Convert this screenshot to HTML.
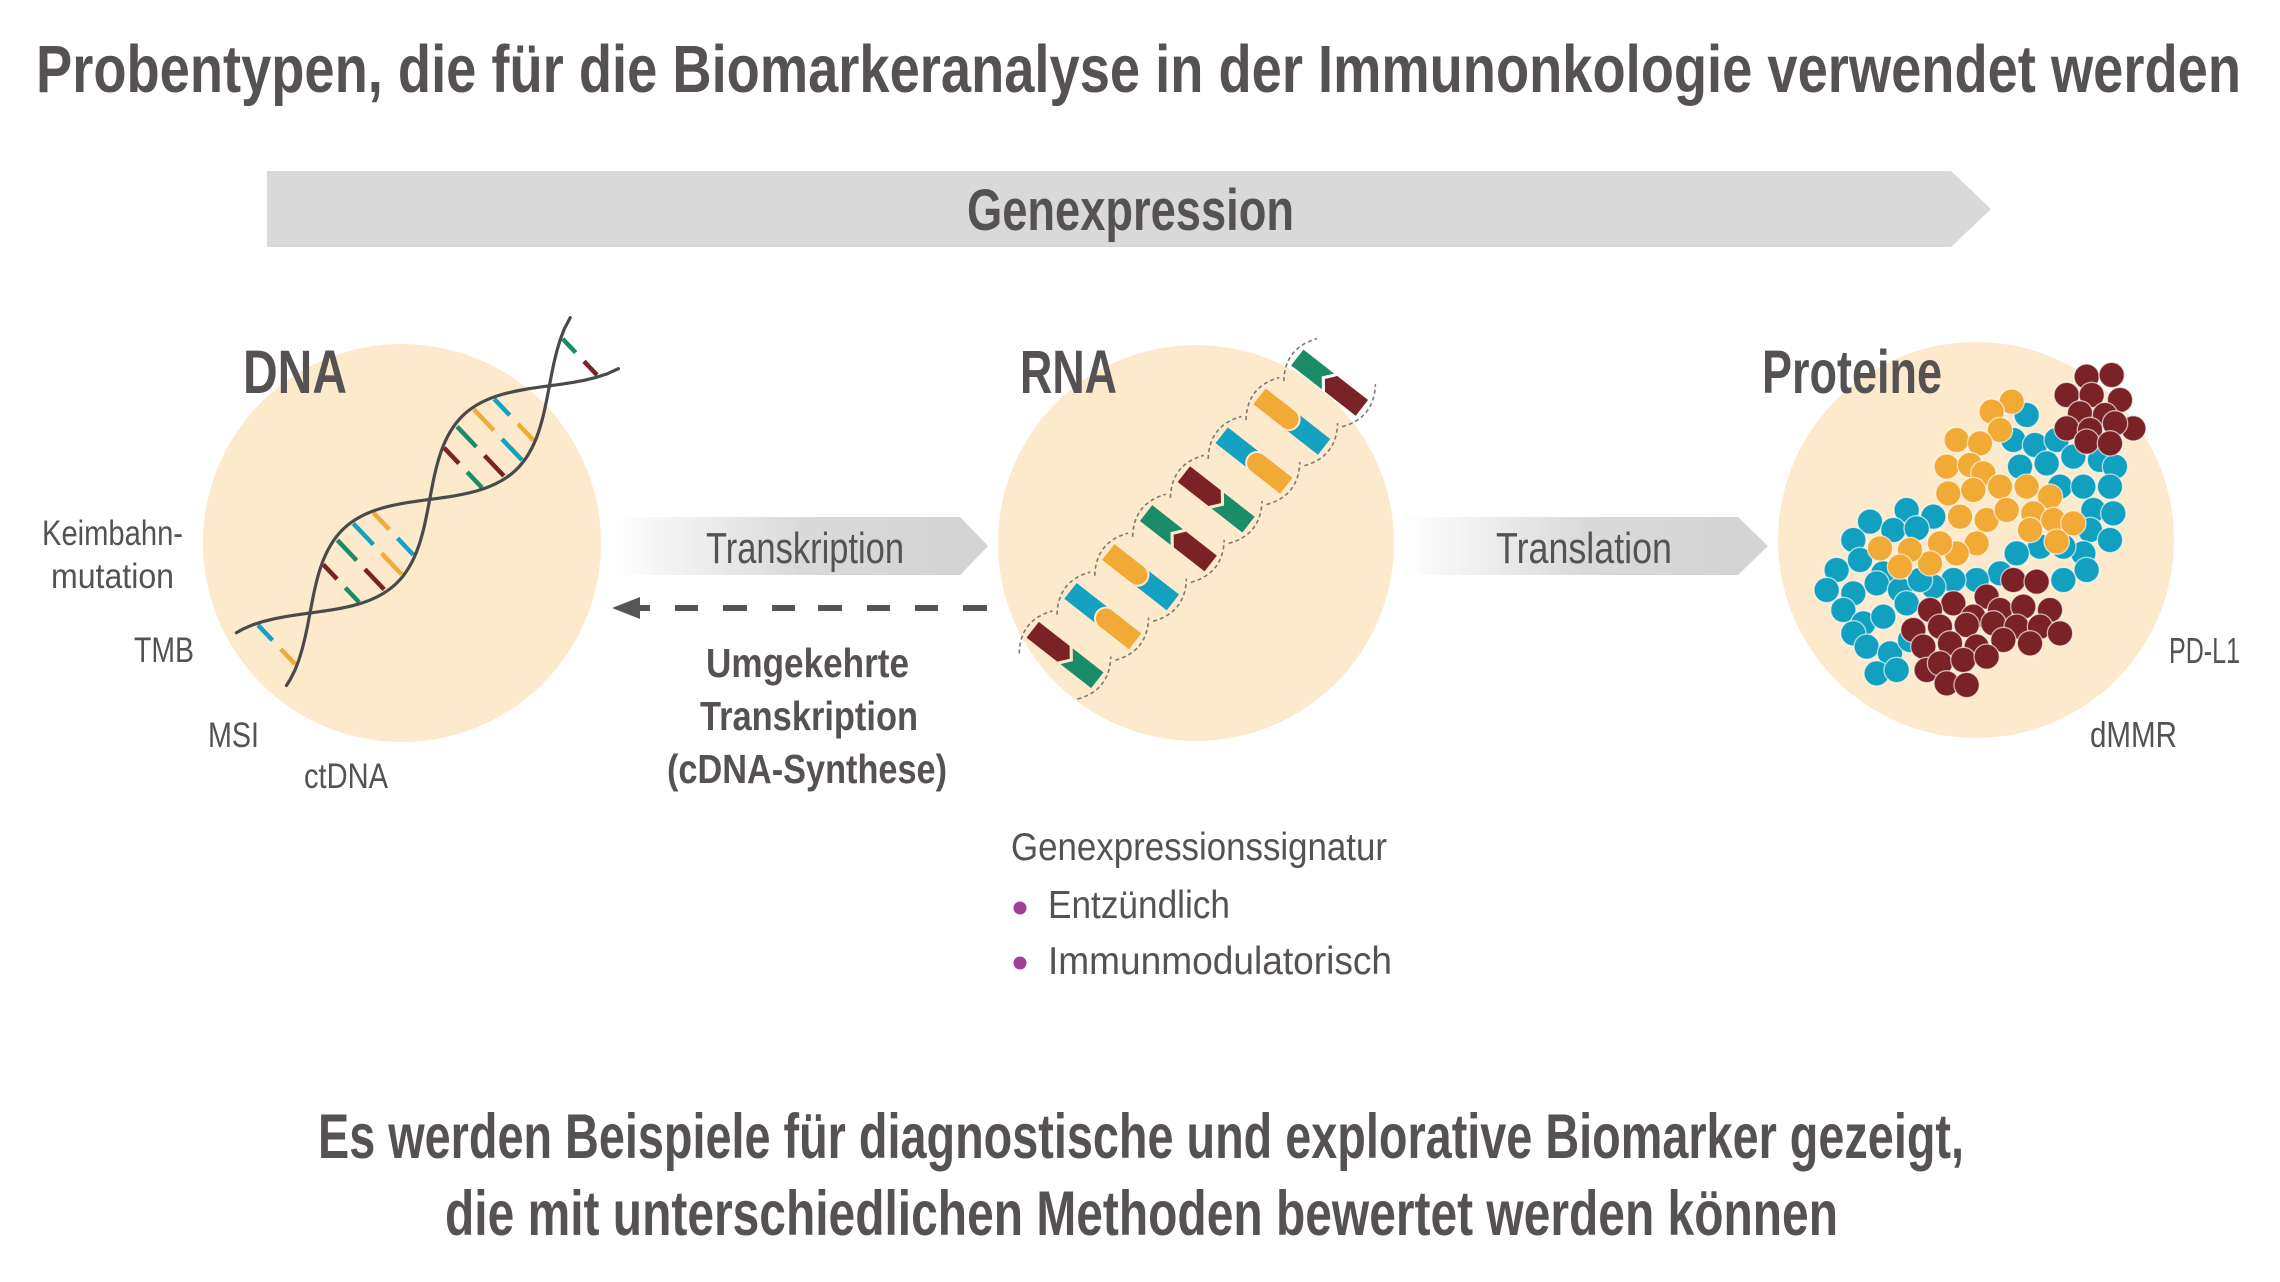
<!DOCTYPE html>
<html>
<head>
<meta charset="utf-8">
<style>
html,body{margin:0;padding:0;background:#fff;}
svg{display:block;}
text{font-family:"Liberation Sans Narrow","Liberation Sans",sans-serif;fill:#565253;}
.b{font-weight:bold;}
</style>
</head>
<body>
<svg width="2280" height="1282" viewBox="0 0 2280 1282" xmlns="http://www.w3.org/2000/svg">
<defs>
  <linearGradient id="gT" x1="612" y1="0" x2="988" y2="0" gradientUnits="userSpaceOnUse">
    <stop offset="0" stop-color="#ffffff"/>
    <stop offset="0.5" stop-color="#dadada"/>
    <stop offset="1" stop-color="#d3d3d3"/>
  </linearGradient>
  <linearGradient id="gL" x1="1400" y1="0" x2="1768" y2="0" gradientUnits="userSpaceOnUse">
    <stop offset="0" stop-color="#ffffff"/>
    <stop offset="0.5" stop-color="#dadada"/>
    <stop offset="1" stop-color="#d3d3d3"/>
  </linearGradient>
</defs>

<!-- Title -->
<text class="b" x="36" y="92" font-size="67" textLength="2205" lengthAdjust="spacingAndGlyphs">Probentypen, die für die Biomarkeranalyse in der Immunonkologie verwendet werden</text>

<!-- Genexpression bar -->
<polygon points="267,171 1951,171 1991,209 1951,247 267,247" fill="#d9d9d9"/>
<text class="b" x="967" y="230" font-size="58" textLength="327" lengthAdjust="spacingAndGlyphs">Genexpression</text>

<!-- Circles -->
<circle cx="402" cy="543" r="199" fill="#fde9cb"/>
<circle cx="1196" cy="543" r="198" fill="#fde9cb"/>
<circle cx="1976" cy="540" r="198" fill="#fde9cb"/>

<!-- Labels -->
<text class="b" x="243" y="393" font-size="61" textLength="104" lengthAdjust="spacingAndGlyphs">DNA</text>
<text class="b" x="1020" y="393" font-size="61" textLength="97" lengthAdjust="spacingAndGlyphs">RNA</text>
<text class="b" x="1762" y="393" font-size="61" textLength="180" lengthAdjust="spacingAndGlyphs">Proteine</text>

<!-- DNA helix -->
<g transform="translate(310,613) rotate(-43.5)" stroke-linecap="butt">
  <g stroke-width="4.5">
    <line x1="-46" y1="-6" x2="-46" y2="-27" stroke="#14a1c2"/>
    <line x1="-46" y1="6" x2="-46" y2="27" stroke="#f2aa36"/>
    <line x1="43" y1="-6" x2="43" y2="-26" stroke="#7b2227"/>
    <line x1="43" y1="6" x2="43" y2="26" stroke="#1b8c68"/>
    <line x1="70" y1="-6" x2="70" y2="-34" stroke="#1b8c68"/>
    <line x1="70" y1="6" x2="70" y2="34" stroke="#7b2227"/>
    <line x1="93" y1="-6" x2="93" y2="-35" stroke="#14a1c2"/>
    <line x1="93" y1="6" x2="93" y2="35" stroke="#f2aa36"/>
    <line x1="115" y1="-6" x2="115" y2="-29" stroke="#f2aa36"/>
    <line x1="115" y1="6" x2="115" y2="29" stroke="#14a1c2"/>
    <line x1="211" y1="-6" x2="211" y2="-27.5" stroke="#7b2227"/>
    <line x1="211" y1="6" x2="211" y2="27.5" stroke="#1b8c68"/>
    <line x1="235" y1="-6" x2="235" y2="-34" stroke="#1b8c68"/>
    <line x1="235" y1="6" x2="235" y2="34" stroke="#7b2227"/>
    <line x1="259" y1="-6" x2="259" y2="-35" stroke="#f2aa36"/>
    <line x1="259" y1="6" x2="259" y2="35" stroke="#14a1c2"/>
    <line x1="281" y1="-6" x2="281" y2="-28.5" stroke="#14a1c2"/>
    <line x1="281" y1="6" x2="281" y2="28.5" stroke="#f2aa36"/>
    <line x1="372" y1="-6" x2="372" y2="-25" stroke="#1b8c68"/>
    <line x1="372" y1="6" x2="372" y2="25" stroke="#7b2227"/>
  </g>
  <g fill="none" stroke="#4a4a4a" stroke-width="3.2" stroke-linejoin="round" stroke-linecap="round">
    <path d="M-67,-36.4 L-60,-34.6 L-50,-31 L-40,-26.2 L-30,-20.5 L-20,-14.1 L-10,-7.2 L0,0 C26.9,19.47 52.64,38 82.5,38 C112.36,38 138.1,19.47 165,0 C191.9,-19.47 217.64,-38 247.5,-38 C277.36,-38 303.1,-19.47 330,0 L340,7.2 L350,14.1 L360,20.5 L370,26.2 L380,31 L392,35.1"/>
    <path d="M-67,36.4 L-60,34.6 L-50,31 L-40,26.2 L-30,20.5 L-20,14.1 L-10,7.2 L0,0 C26.9,-19.47 52.64,-38 82.5,-38 C112.36,-38 138.1,-19.47 165,0 C191.9,19.47 217.64,38 247.5,38 C277.36,38 303.1,19.47 330,0 L340,-7.2 L350,-14.1 L360,-20.5 L370,-26.2 L380,-31 L392,-35.1"/>
  </g>
</g>

<!-- DNA side labels -->
<text x="42" y="545" font-size="35" textLength="141" lengthAdjust="spacingAndGlyphs">Keimbahn-</text>
<text x="51" y="588" font-size="35" textLength="123" lengthAdjust="spacingAndGlyphs">mutation</text>
<text x="134" y="662" font-size="35" textLength="60" lengthAdjust="spacingAndGlyphs">TMB</text>
<text x="208" y="747" font-size="35" textLength="51" lengthAdjust="spacingAndGlyphs">MSI</text>
<text x="304" y="788" font-size="35" textLength="84" lengthAdjust="spacingAndGlyphs">ctDNA</text>

<!-- Transkription arrow -->
<polygon points="612,517 960,517 988,546 960,575 612,575" fill="url(#gT)"/>
<text x="706" y="563" font-size="44" textLength="198" lengthAdjust="spacingAndGlyphs">Transkription</text>

<!-- Dashed reverse arrow -->
<polygon points="612,608 640,597 640,619" fill="#555"/>
<g stroke="#555" stroke-width="6">
  <line x1="636" y1="608" x2="650" y2="608"/>
  <line x1="675" y1="608" x2="698" y2="608"/>
  <line x1="723" y1="608" x2="747" y2="608"/>
  <line x1="772" y1="608" x2="795" y2="608"/>
  <line x1="818" y1="608" x2="842" y2="608"/>
  <line x1="867" y1="608" x2="890" y2="608"/>
  <line x1="915" y1="608" x2="938" y2="608"/>
  <line x1="963" y1="608" x2="987" y2="608"/>
</g>
<text class="b" x="706" y="677" font-size="41" textLength="203" lengthAdjust="spacingAndGlyphs">Umgekehrte</text>
<text class="b" x="700" y="730" font-size="41" textLength="218" lengthAdjust="spacingAndGlyphs">Transkription</text>
<text class="b" x="667" y="783" font-size="41" textLength="280" lengthAdjust="spacingAndGlyphs">(cDNA-Synthese)</text>

<!-- RNA rungs -->
<!-- rung 1: P maroon/green -->
<g transform="translate(1065,655) rotate(38)">
  <path d="M-37,27 Q-57,0 -37,-27 M37,27 Q57,0 37,-27" fill="none" stroke="#7a7a7a" stroke-width="1.6" stroke-dasharray="4 3"/>
  <polygon points="-41,-10 -2,-10 6,0 -2,10 -41,10" fill="#7b2227"/>
  <polygon points="2,-10 41,-10 41,10 2,10 10,0" fill="#1b8c68"/>
</g>
<!-- rung 2: R mirrored -->
<g transform="translate(1102.8,616.1) rotate(38) scale(-1,1)">
  <path d="M-37,27 Q-57,0 -37,-27 M37,27 Q57,0 37,-27" fill="none" stroke="#7a7a7a" stroke-width="1.6" stroke-dasharray="4 3"/>
  <path d="M-41,-10 H-4 A10,10 0 0 1 -4,10 H-41 Z" fill="#f2aa36"/>
  <path d="M2.63,-10 H41 V10 H2.63 A12,12 0 0 0 2.63,-10 Z" fill="#14a1c2"/>
</g>
<!-- rung 3: R -->
<g transform="translate(1140.6,577.2) rotate(38)">
  <path d="M-37,27 Q-57,0 -37,-27 M37,27 Q57,0 37,-27" fill="none" stroke="#7a7a7a" stroke-width="1.6" stroke-dasharray="4 3"/>
  <path d="M-41,-10 H-4 A10,10 0 0 1 -4,10 H-41 Z" fill="#f2aa36"/>
  <path d="M2.63,-10 H41 V10 H2.63 A12,12 0 0 0 2.63,-10 Z" fill="#14a1c2"/>
</g>
<!-- rung 4: P mirrored -->
<g transform="translate(1178.4,538.3) rotate(38) scale(-1,1)">
  <path d="M-37,27 Q-57,0 -37,-27 M37,27 Q57,0 37,-27" fill="none" stroke="#7a7a7a" stroke-width="1.6" stroke-dasharray="4 3"/>
  <polygon points="-41,-10 -2,-10 6,0 -2,10 -41,10" fill="#7b2227"/>
  <polygon points="2,-10 41,-10 41,10 2,10 10,0" fill="#1b8c68"/>
</g>
<!-- rung 5: P -->
<g transform="translate(1216.2,499.4) rotate(38)">
  <path d="M-37,27 Q-57,0 -37,-27 M37,27 Q57,0 37,-27" fill="none" stroke="#7a7a7a" stroke-width="1.6" stroke-dasharray="4 3"/>
  <polygon points="-41,-10 -2,-10 6,0 -2,10 -41,10" fill="#7b2227"/>
  <polygon points="2,-10 41,-10 41,10 2,10 10,0" fill="#1b8c68"/>
</g>
<!-- rung 6: R mirrored -->
<g transform="translate(1254,460.5) rotate(38) scale(-1,1)">
  <path d="M-37,27 Q-57,0 -37,-27 M37,27 Q57,0 37,-27" fill="none" stroke="#7a7a7a" stroke-width="1.6" stroke-dasharray="4 3"/>
  <path d="M-41,-10 H-4 A10,10 0 0 1 -4,10 H-41 Z" fill="#f2aa36"/>
  <path d="M2.63,-10 H41 V10 H2.63 A12,12 0 0 0 2.63,-10 Z" fill="#14a1c2"/>
</g>
<!-- rung 7: R -->
<g transform="translate(1291.8,421.6) rotate(38)">
  <path d="M-37,27 Q-57,0 -37,-27 M37,27 Q57,0 37,-27" fill="none" stroke="#7a7a7a" stroke-width="1.6" stroke-dasharray="4 3"/>
  <path d="M-41,-10 H-4 A10,10 0 0 1 -4,10 H-41 Z" fill="#f2aa36"/>
  <path d="M2.63,-10 H41 V10 H2.63 A12,12 0 0 0 2.63,-10 Z" fill="#14a1c2"/>
</g>
<!-- rung 8: P mirrored -->
<g transform="translate(1329.6,382.7) rotate(38) scale(-1,1)">
  <path d="M-37,27 Q-57,0 -37,-27 M37,27 Q57,0 37,-27" fill="none" stroke="#7a7a7a" stroke-width="1.6" stroke-dasharray="4 3"/>
  <polygon points="-41,-10 -2,-10 6,0 -2,10 -41,10" fill="#7b2227"/>
  <polygon points="2,-10 41,-10 41,10 2,10 10,0" fill="#1b8c68"/>
</g>

<!-- Translation arrow -->
<polygon points="1400,517 1738,517 1768,546 1738,575 1400,575" fill="url(#gL)"/>
<text x="1496" y="563" font-size="44" textLength="176" lengthAdjust="spacingAndGlyphs">Translation</text>

<!-- Proteins -->
<g transform="translate(1800,340) scale(0.33333)" stroke="#ffffff" stroke-opacity="0.65" stroke-width="4">
  <g fill="#12a0c0">
    <circle cx="680" cy="225" r="38"/>
    <circle cx="640" cy="300" r="38"/>
    <circle cx="705" cy="315" r="38"/>
    <circle cx="770" cy="300" r="38"/>
    <circle cx="660" cy="380" r="38"/>
    <circle cx="740" cy="370" r="38"/>
    <circle cx="820" cy="350" r="38"/>
    <circle cx="900" cy="360" r="38"/>
    <circle cx="945" cy="380" r="38"/>
    <circle cx="780" cy="440" r="38"/>
    <circle cx="850" cy="440" r="38"/>
    <circle cx="930" cy="440" r="38"/>
    <circle cx="880" cy="510" r="38"/>
    <circle cx="940" cy="520" r="38"/>
    <circle cx="870" cy="570" r="38"/>
    <circle cx="930" cy="600" r="38"/>
    <circle cx="850" cy="640" r="38"/>
    <circle cx="790" cy="620" r="38"/>
    <circle cx="720" cy="620" r="38"/>
    <circle cx="650" cy="640" r="38"/>
    <circle cx="860" cy="690" r="38"/>
    <circle cx="790" cy="720" r="38"/>
    <circle cx="600" cy="700" r="38"/>
    <circle cx="530" cy="720" r="38"/>
    <circle cx="460" cy="720" r="38"/>
    <circle cx="400" cy="740" r="38"/>
    <circle cx="210" cy="545" r="38"/>
    <circle cx="320" cy="510" r="38"/>
    <circle cx="400" cy="530" r="38"/>
    <circle cx="280" cy="570" r="38"/>
    <circle cx="350" cy="565" r="38"/>
    <circle cx="160" cy="600" r="38"/>
    <circle cx="110" cy="690" r="38"/>
    <circle cx="180" cy="660" r="38"/>
    <circle cx="250" cy="700" r="38"/>
    <circle cx="80" cy="750" r="38"/>
    <circle cx="160" cy="760" r="38"/>
    <circle cx="230" cy="730" r="38"/>
    <circle cx="300" cy="750" r="38"/>
    <circle cx="360" cy="720" r="38"/>
    <circle cx="130" cy="810" r="38"/>
    <circle cx="190" cy="850" r="38"/>
    <circle cx="250" cy="830" r="38"/>
    <circle cx="320" cy="790" r="38"/>
    <circle cx="160" cy="880" r="38"/>
    <circle cx="200" cy="920" r="38"/>
    <circle cx="270" cy="940" r="38"/>
    <circle cx="330" cy="900" r="38"/>
    <circle cx="230" cy="1000" r="38"/>
    <circle cx="290" cy="990" r="38"/>
  </g>
  <g fill="#f2aa36">
    <circle cx="635" cy="185" r="38"/>
    <circle cx="575" cy="215" r="38"/>
    <circle cx="600" cy="270" r="38"/>
    <circle cx="470" cy="300" r="38"/>
    <circle cx="540" cy="310" r="38"/>
    <circle cx="440" cy="380" r="38"/>
    <circle cx="510" cy="375" r="38"/>
    <circle cx="550" cy="400" r="38"/>
    <circle cx="445" cy="460" r="38"/>
    <circle cx="520" cy="450" r="38"/>
    <circle cx="600" cy="440" r="38"/>
    <circle cx="480" cy="530" r="38"/>
    <circle cx="560" cy="540" r="38"/>
    <circle cx="620" cy="510" r="38"/>
    <circle cx="680" cy="440" r="38"/>
    <circle cx="750" cy="470" r="38"/>
    <circle cx="700" cy="520" r="38"/>
    <circle cx="760" cy="540" r="38"/>
    <circle cx="820" cy="550" r="38"/>
    <circle cx="770" cy="605" r="38"/>
    <circle cx="690" cy="570" r="38"/>
    <circle cx="530" cy="610" r="38"/>
    <circle cx="470" cy="640" r="38"/>
    <circle cx="420" cy="610" r="38"/>
    <circle cx="390" cy="670" r="38"/>
    <circle cx="330" cy="630" r="38"/>
    <circle cx="300" cy="680" r="38"/>
    <circle cx="240" cy="625" r="38"/>
  </g>
  <g fill="#7b2227">
    <circle cx="860" cy="110" r="38"/>
    <circle cx="935" cy="105" r="38"/>
    <circle cx="800" cy="165" r="38"/>
    <circle cx="875" cy="165" r="38"/>
    <circle cx="960" cy="180" r="38"/>
    <circle cx="840" cy="220" r="38"/>
    <circle cx="915" cy="225" r="38"/>
    <circle cx="1000" cy="265" r="38"/>
    <circle cx="800" cy="265" r="38"/>
    <circle cx="870" cy="270" r="38"/>
    <circle cx="945" cy="250" r="38"/>
    <circle cx="860" cy="305" r="38"/>
    <circle cx="930" cy="310" r="38"/>

    <circle cx="640" cy="720" r="38"/>
    <circle cx="710" cy="725" r="38"/>
    <circle cx="560" cy="770" r="38"/>
    <circle cx="460" cy="790" r="38"/>
    <circle cx="390" cy="810" r="38"/>
    <circle cx="520" cy="830" r="38"/>
    <circle cx="600" cy="810" r="38"/>
    <circle cx="670" cy="800" r="38"/>
    <circle cx="750" cy="810" r="38"/>
    <circle cx="340" cy="870" r="38"/>
    <circle cx="420" cy="860" r="38"/>
    <circle cx="500" cy="855" r="38"/>
    <circle cx="580" cy="850" r="38"/>
    <circle cx="650" cy="860" r="38"/>
    <circle cx="720" cy="860" r="38"/>
    <circle cx="780" cy="880" r="38"/>
    <circle cx="370" cy="920" r="38"/>
    <circle cx="450" cy="910" r="38"/>
    <circle cx="530" cy="920" r="38"/>
    <circle cx="610" cy="900" r="38"/>
    <circle cx="690" cy="910" r="38"/>
    <circle cx="380" cy="990" r="38"/>
    <circle cx="420" cy="970" r="38"/>
    <circle cx="490" cy="960" r="38"/>
    <circle cx="560" cy="950" r="38"/>
    <circle cx="440" cy="1030" r="38"/>
    <circle cx="500" cy="1035" r="38"/>
  </g>
</g>
<text x="2169" y="663" font-size="36" textLength="71" lengthAdjust="spacingAndGlyphs">PD-L1</text>
<text x="2090" y="747" font-size="36" textLength="87" lengthAdjust="spacingAndGlyphs">dMMR</text>

<!-- Genexpressionssignatur -->
<text x="1011" y="860" font-size="39" textLength="376" lengthAdjust="spacingAndGlyphs">Genexpressionssignatur</text>
<circle cx="1020" cy="908" r="6.5" fill="#9e3f9e"/>
<text x="1048" y="918" font-size="39" textLength="182" lengthAdjust="spacingAndGlyphs">Entzündlich</text>
<circle cx="1020" cy="963" r="6.5" fill="#9e3f9e"/>
<text x="1048" y="974" font-size="39" textLength="344" lengthAdjust="spacingAndGlyphs">Immunmodulatorisch</text>

<!-- Bottom text -->
<text class="b" x="318" y="1158" font-size="63" textLength="1646" lengthAdjust="spacingAndGlyphs">Es werden Beispiele für diagnostische und explorative Biomarker gezeigt,</text>
<text class="b" x="445" y="1235" font-size="63" textLength="1393" lengthAdjust="spacingAndGlyphs">die mit unterschiedlichen Methoden bewertet werden können</text>
</svg>
</body>
</html>
